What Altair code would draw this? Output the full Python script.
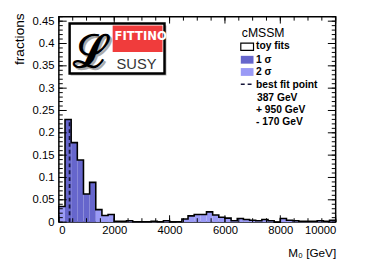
import altair as alt
import pandas as pd

# ---------------- data ----------------
x_min, x_max = 0, 10000
n_bins = 45
fractions = [0.035, 0.230, 0.178, 0.139, 0.063, 0.089, 0.028, 0.015, 0.017,
             0.002, 0.002, 0.003, 0.001, 0.001, 0.001, 0.002, 0.001, 0.003, 0.0005, 0.001,
             0.007, 0.014, 0.017, 0.017, 0.023, 0.016, 0.011, 0.009, 0.003, 0.008,
             0.006, 0.004, 0.003, 0.006, 0.003, 0.0, 0.008, 0.004, 0.003, 0.002,
             0.002, 0.002, 0.003, 0.002, 0.004]
best_fit = 387
err_plus = 950
err_minus = 170
band_names = ["1 σ", "2 σ"]
band_colors = ["#6666cc", "#9a9af6"]
x_tick_labels = [0, 2000, 4000, 6000, 8000, 10000]
x_minor = [500 * i for i in range(21)]
y_tick_labels = [0, 0.05, 0.1, 0.15, 0.2, 0.25, 0.3, 0.35, 0.4, 0.45]
y_minor = [round(0.01 * i, 2) for i in range(47)]
legend_title = "cMSSM"
legend_labels = ["toy fits", "1 σ", "2 σ", "best fit point",
                 f"{best_fit} GeV", f"+ {err_plus} GeV", f"- {err_minus} GeV"]

# ---------------- tables ----------------
bw = (x_max - x_min) / n_bins
edges = [x_min + i * bw for i in range(n_bins + 1)]
lo1, hi1 = best_fit - err_minus, best_fit + err_plus
rows = []
for i, f in enumerate(fractions):
    a, b = edges[i], edges[i + 1]
    cuts = sorted(set([a, b] + [c for c in (lo1, hi1) if a < c < b]))
    for s, e in zip(cuts[:-1], cuts[1:]):
        mid = (s + e) / 2
        band = band_names[0] if lo1 <= mid < hi1 else band_names[1]
        rows.append({"x": s, "x2": e, "y": f, "band": band})
fill_df = pd.DataFrame(rows)

pts = [{"x": x_min, "y": 0.0, "o": 0}]
for i, f in enumerate(fractions):
    pts.append({"x": edges[i], "y": f, "o": i + 1})
pts.append({"x": x_max, "y": fractions[-1], "o": n_bins + 1})
pts.append({"x": x_max, "y": 0.0, "o": n_bins + 2})
line_df = pd.DataFrame(pts)

best_idx = int((best_fit - x_min) // bw)
best_df = pd.DataFrame({"x": [best_fit], "y": [0.0], "y2": [fractions[best_idx]]})

xs = alt.Scale(domain=[x_min, x_max], nice=False, zero=False)
ys = alt.Scale(domain=[0, 0.46], nice=False)
FONT = "Liberation Sans"

X_AX = alt.Axis(
    values=x_tick_labels, format="d", title="M₀ [GeV]",
    labelPadding=3, labelFontSize=11.5, labelOverlap=False,
    titleAnchor="end", titleAlign="right", titleBaseline="alphabetic",
    titleX=283, titleY=35, titleFontSize=12, titleFontWeight="normal")
Y_AX = alt.Axis(
    values=y_tick_labels, format="~g", title="fractions",
    labelPadding=5, labelFontSize=11.5, labelOverlap=False,
    titleAnchor="end", titleAlign="right", titleBaseline="alphabetic",
    titleAngle=-90, titleX=-36, titleY=-4, titleFontSize=14, titleFontWeight="normal")

def X(f):
    return alt.X(f, scale=xs, axis=X_AX, title="M₀ [GeV]")

def Y(f):
    return alt.Y(f, scale=ys, axis=Y_AX, title="fractions")

fill = alt.Chart(fill_df).mark_rect(strokeWidth=0).encode(
    x=X("x:Q"), x2="x2:Q", y=Y("y:Q"), y2=alt.datum(0),
    color=alt.Color("band:N", scale=alt.Scale(domain=band_names, range=band_colors), legend=None),
)

outline = alt.Chart(line_df).mark_line(interpolate="step-after", color="black", strokeWidth=1.6).encode(
    x=X("x:Q"), y=Y("y:Q"), order="o:Q",
)

best = alt.Chart(best_df).mark_rule(color="#141438", strokeWidth=1.8, strokeDash=[4, 3]).encode(
    x=X("x:Q"), y=Y("y:Q"), y2="y2:Q",
)

def yticks(vals, x0, x1):
    return alt.Chart(pd.DataFrame({"y": vals})).mark_rule(color="black", strokeWidth=1).encode(
        y=Y("y:Q"), x=alt.value(x0), x2=alt.value(x1))

def xticks(vals, y0, y1):
    return alt.Chart(pd.DataFrame({"x": vals})).mark_rule(color="black", strokeWidth=1).encode(
        x=X("x:Q"), y=alt.value(y0), y2=alt.value(y1))

W, H = 283, 210
ticks = [
    yticks(y_minor, 0, 4), yticks(y_tick_labels, 0, 8),
    yticks(y_minor, W, W - 4), yticks(y_tick_labels, W, W - 8),
    xticks(x_minor, 0, 4), xticks(x_tick_labels, 0, 7),
    xticks(x_minor, H, H - 4), xticks(x_tick_labels, H, H - 7),
]

one = pd.DataFrame({"a": [0]})

def text(x, y, s, **kw):
    base = dict(align="left", baseline="alphabetic", font=FONT, fontSize=10.5, fontWeight="bold", color="black")
    base.update(kw)
    return alt.Chart(one).mark_text(**base).encode(x=alt.value(x), y=alt.value(y), text=alt.value(s))

def box(x0, x1, y0, y1, **kw):
    return alt.Chart(one).mark_rect(**kw).encode(
        x=alt.value(x0), x2=alt.value(x1), y=alt.value(y0), y2=alt.value(y1))

# legend
lx = 186
legend = [
    text(187, 21, legend_title, fontSize=12.5, fontWeight="normal"),
    box(lx, lx + 13, 27, 34.5, fill="white", stroke="black", strokeWidth=1.2),
    text(201.5, 33.5, legend_labels[0]),
    box(lx, lx + 13, 40, 48, fill=band_colors[0]),
    text(201.5, 47.5, legend_labels[1]),
    box(lx, lx + 13, 52.5, 60.5, fill=band_colors[1]),
    text(201.5, 60, legend_labels[2]),
    alt.Chart(one).mark_rule(color="#141438", strokeWidth=1.5, strokeDash=[4, 3]).encode(
        x=alt.value(lx), x2=alt.value(lx + 13), y=alt.value(69)),
    text(201.5, 72.5, legend_labels[3]),
    text(202.5, 86, legend_labels[4]),
    text(201.5, 98.5, legend_labels[5]),
    text(201.5, 111, legend_labels[6]),
]

# logo
logo = [
    box(12, 110, 9, 60, fill="#b0b0b0"),
    box(11, 108, 7, 58, fill="white", stroke="black", strokeWidth=2.5),
    box(55, 106, 9, 36, fill="#f03c3c"),
    text(57, 24, "FITTINO", font="Liberation Sans Narrow, DejaVu Sans Condensed, Liberation Sans",
         fontSize=13.2, fontWeight="bold", color="white"),
    text(59, 53, "SUSY", fontSize=15, fontWeight="normal", color="#333333"),
    text(17, 53, "ℒ", font="DejaVu Serif", fontSize=46, fontWeight="bold", color="#aaaaaa"),
    text(14, 51, "ℒ", font="DejaVu Serif", fontSize=46, fontWeight="bold", color="black"),
]

chart = alt.layer(fill, outline, best, *ticks, *legend, *logo).properties(
    width=W, height=H,
    padding={"left": 52, "top": 6, "right": 31, "bottom": 44},
    autosize=alt.AutoSizeParams(type="none"),
).configure_view(stroke="black", strokeWidth=1.5).configure_axis(
    labelFont=FONT, titleFont=FONT, labelColor="black", titleColor="black",
    grid=False, ticks=False, tickSize=0, domain=False,
)

chart.save("out.html", embed_options={"renderer": "svg", "actions": False})
